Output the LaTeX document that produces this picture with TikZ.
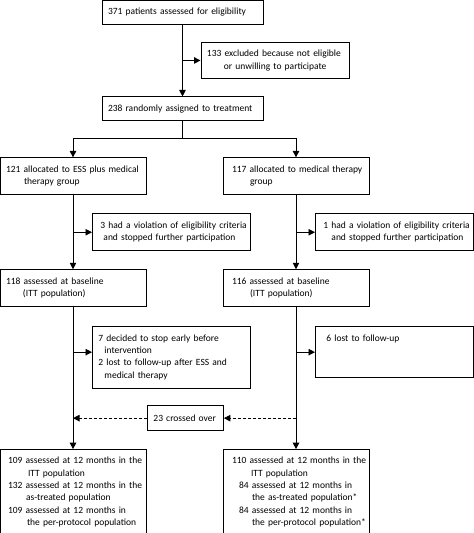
\documentclass[tikz,border=0pt]{standalone}
\usepackage{fontspec}
\setmainfont{Carlito}
\usetikzlibrary{arrows.meta, positioning}
\hyphenpenalty=10000
\exhyphenpenalty=10000

\begin{document}
\begin{tikzpicture}[
    x=1pt, y=1pt,
    every node/.style={font=\fontsize{9.5}{12.3}\selectfont},
    box/.style={rectangle, draw, line width=0.9pt, inner xsep=6pt, inner ysep=3.3pt, align=left},
    arrow/.style={-{Triangle[length=6.5pt, width=6.5pt]}, line width=0.9pt},
    crossarrow/.style={arrow, dash pattern=on 3pt off 2pt}
    ]
\useasboundingbox (0,0) rectangle (474,-533);

% Nodes
\node (screen) [box, text width=149pt, minimum height=24pt] at (182.5,-12) {371 patients assessed for eligibility};
\node (rand) [box, text width=149pt, minimum height=24pt, below=72pt of screen] {238 randomly assigned to treatment};
\coordinate [below=36pt of screen] (cut1);
\node (excl) [box, text width=136pt, minimum height=36pt, right=18pt of cut1] {133 excluded because not eligible\\\hspace*{17pt}or unwilling to participate};

% Allocation
\coordinate [below=17pt of rand] (split);
\node (essgrp) [box, text width=134pt, minimum height=37pt, below=36pt of rand, xshift=-109.5pt] {121 allocated to ESS plus medical\\\hspace*{18pt}therapy group};
\node (medgrp) [box, text width=134pt, minimum height=37pt, below=36pt of rand, xshift=113.5pt] {\hspace*{3pt}117 allocated to medical therapy\\\hspace*{21pt}group};

% Baseline
\node (essbase) [box, text width=134pt, minimum height=37pt, below=74pt of essgrp] {118 assessed at baseline\\\hspace*{17pt}(ITT population)};
\node (medbase) [box, text width=134pt, minimum height=37pt, below=74pt of medgrp] {\hspace*{3pt}116 assessed at baseline\\\hspace*{21pt}(ITT population)};
\coordinate [below=37pt of essgrp] (lcut1);
\coordinate [below=37pt of medgrp] (rcut1);
\node (essviol) [box, inner xsep=1pt, text width=156pt, minimum height=37pt, right=19pt of lcut1] {\hspace*{7pt}3 had a violation of eligibility criteria\\\hspace*{10pt}and stopped further participation};
\node (medviol) [box, inner xsep=1pt, text width=156pt, minimum height=37pt, right=19pt of rcut1] {\hspace*{7pt}1 had a violation of eligibility criteria\\\hspace*{15pt}and stopped further participation};

% Follow-up
\coordinate [below=45pt of essbase] (lcut2);
\coordinate [below=45pt of medbase] (rcut2);
\node (essdrop) [box, text width=146pt, minimum height=62pt, right=19pt of lcut2, yshift=-5pt] {7 decided to stop early before\\\hspace*{6pt}intervention\\2 lost to follow-up after ESS and\\\hspace*{6pt}medical therapy};
\node (meddrop) [box, text width=146pt, text height=11pt, text depth=33pt, right=19pt of rcut2] {\hspace*{5pt}6 lost to follow-up};

% Crossover
\coordinate [below=111pt of essbase] (lcut3);
\coordinate [below=111pt of medbase] (rcut3);
\node (cross) [box, text width=64pt, minimum height=25pt, right=74pt of lcut3] {23 crossed over};

% 12 months
\node (essfinal) [box, inner xsep=2pt, text width=142pt, minimum height=85pt, below=142pt of essbase] {\hspace*{6pt}109 assessed at 12 months in the\\\hspace*{26pt}ITT population\\\hspace*{6pt}132 assessed at 12 months in the\\\hspace*{24pt}as-treated population\\\hspace*{6pt}109 assessed at 12 months in\\\hspace*{25pt}the per-protocol population};
\node (medfinal) [box, inner xsep=2pt, text width=142pt, minimum height=85pt, below=142pt of medbase] {\hspace*{7pt}110 assessed at 12 months in the\\\hspace*{26pt}ITT population\\\hspace*{14pt}84 assessed at 12 months in\\\hspace*{27pt}the as-treated population*\\\hspace*{14pt}84 assessed at 12 months in\\\hspace*{27pt}the per-protocol population*};

% Arrows
\draw[arrow] (screen) -- (rand);
\draw[arrow] (cut1) -- (excl);
\draw[line width=0.9pt] (rand) -- (split);
\draw[arrow] (split) -| (essgrp);
\draw[arrow] (split) -| (medgrp);
\draw[arrow] (essgrp) -- (essbase);
\draw[arrow] (medgrp) -- (medbase);
\draw[arrow] (lcut1) -- (essviol);
\draw[arrow] (rcut1) -- (medviol);
\draw[arrow] (essbase) -- (essfinal);
\draw[arrow] (medbase) -- (medfinal);
\draw[arrow] (lcut2) -- (lcut2 -| essdrop.west);
\draw[arrow] (rcut2) -- (meddrop);
\draw[crossarrow] (cross) -- (lcut3);
\draw[crossarrow] (rcut3) -- (cross);

\end{tikzpicture}
\end{document}
